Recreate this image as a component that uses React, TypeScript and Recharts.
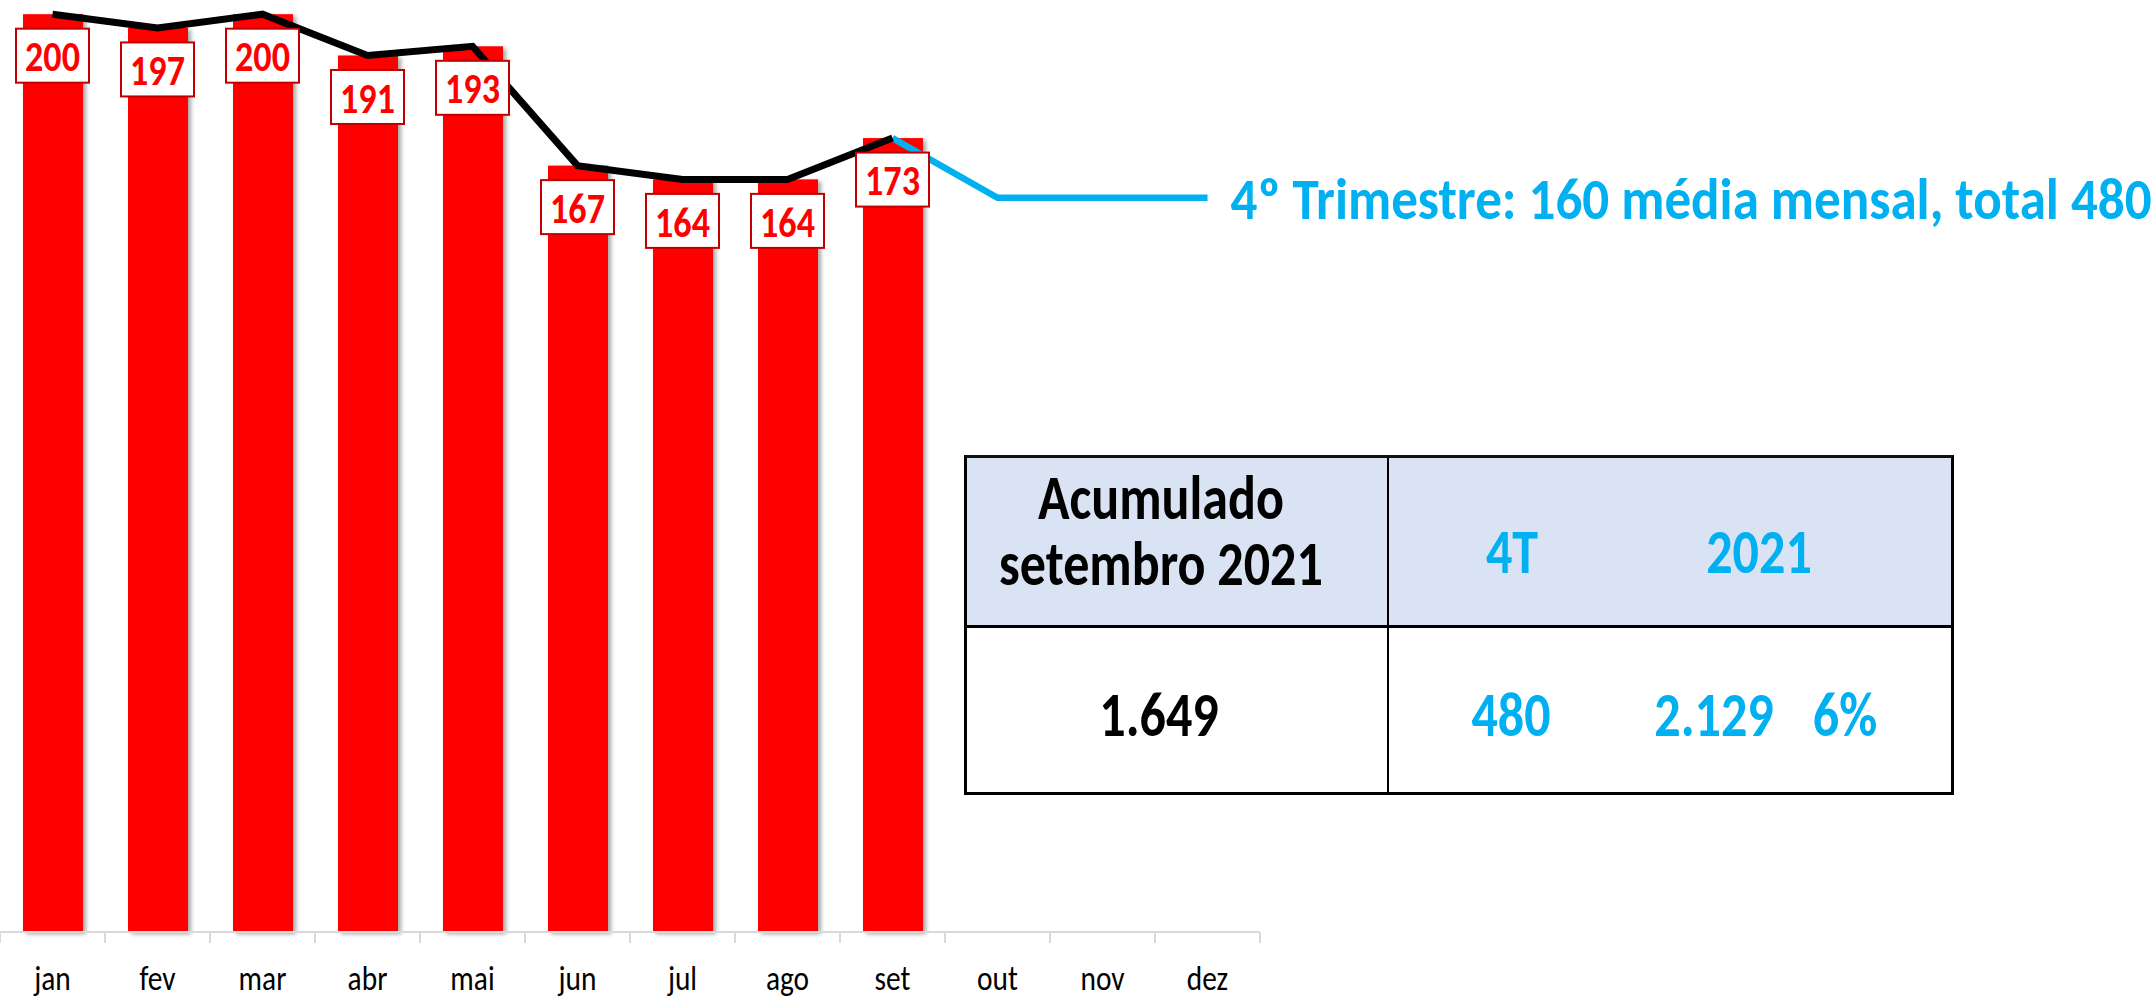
import React from "react";
import { ComposedChart, Bar, Line, XAxis, YAxis, LabelList } from "recharts";

const months = ["jan", "fev", "mar", "abr", "mai", "jun", "jul", "ago", "set", "out", "nov", "dez"];
const realizado = [200, 197, 200, 191, 193, 167, 164, 164, 173, null, null, null];
const previsao4T = [null, null, null, null, null, null, null, null, 173, 160, 160, 160];
const notaPrevisao = "4º Trimestre: 160 média mensal, total 480";

const tabelaCabecalho = ["Acumulado", "setembro 2021"];
const tabelaColunas = ["4T", "2021"];
const acumulado = "1.649";
const valores4T = ["480", "2.129", "6%"];

const W = 2156;
const H = 999;
const PLOT_W = 1260;
const AXIS_H = 67;
const BAND = PLOT_W / months.length;

// narrow look, Calibri is not installed
const FONT = "Carlito, Calibri, Lato, 'Open Sans', sans-serif";
const SQ = 0.84;
const RED = "#FF0000";
const DARK_RED = "#C00000";
const BLUE = "#00B0F0";

const data = months.map((m, i) => ({
  month: m,
  valor: realizado[i],
  linha: realizado[i],
  q4: previsao4T[i],
}));

const NarrowText = ({ x, y, anchor = "middle", size, bold, fill, children }: any) => (
  <text
    transform={`translate(${x},${y}) scale(${SQ},1)`}
    x={0}
    y={0}
    textAnchor={anchor}
    dominantBaseline="central"
    fontFamily={FONT}
    fontWeight={bold ? "bold" : "normal"}
    fontSize={size}
    fill={fill}
  >
    {children}
  </text>
);

const ShadowBar = (p: any) => {
  const { x, y, width, height } = p;
  if (!height || height <= 0) return null;
  return (
    <rect
      x={x}
      y={y}
      width={width}
      height={height}
      fill={RED}
      style={{ filter: "drop-shadow(3px 2px 2px rgba(0,0,0,0.35))" }}
    />
  );
};

const MonthTick = (p: any) => {
  const { x, y, payload, index } = p;
  const last = index === months.length - 1;
  return (
    <g>
      <line x1={x - BAND / 2} x2={x - BAND / 2} y1={y} y2={y + 11} stroke="#d9d9d9" strokeWidth={2} />
      {last && <line x1={x + BAND / 2} x2={x + BAND / 2} y1={y} y2={y + 11} stroke="#d9d9d9" strokeWidth={2} />}
      <NarrowText x={x} y={y + 46} size={35} fill="#000">
        {payload.value}
      </NarrowText>
    </g>
  );
};

const BoxLabel = (p: any) => {
  const { x, y, value } = p;
  if (value == null) return null;
  const cy = y + 41.5;
  return (
    <g>
      <rect x={x - 36.5} y={cy - 27} width={73} height={54} fill="#fff" stroke={DARK_RED} strokeWidth={2} />
      <NarrowText x={x} y={cy + 1} size={43} bold fill={RED}>
        {value}
      </NarrowText>
    </g>
  );
};

const NoteLabel = (p: any) => {
  const { x, y, index } = p;
  if (index !== months.length - 1) return null;
  return (
    <g transform={`translate(${x + 23},${y + 1}) scale(0.9,1)`}>
      <text x={0} y={0} dominantBaseline="central" fontFamily={FONT} fontWeight="bold" fontSize={59} fill={BLUE}>
        {notaPrevisao}
      </text>
    </g>
  );
};

const txt = (s: React.ReactNode, cx: number, cy: number, color: string, lh: number | string = 0.8): React.ReactElement => (
  <div
    key={String(cx) + "-" + cy}
    style={{
      position: "absolute",
      left: cx,
      top: cy,
      transform: `translate(-50%, -50%) scale(${SQ}, 1)`,
      whiteSpace: "nowrap",
      textAlign: "center",
      fontFamily: FONT,
      fontWeight: "bold",
      fontSize: 62,
      lineHeight: lh,
      color,
    }}
  >
    {s}
  </div>
);

export default function App() {
  return (
    <div style={{ position: "absolute", left: 0, top: 0, width: W, height: H, background: "#fff", overflow: "hidden" }}>
      <ComposedChart
        width={W}
        height={H}
        data={data}
        margin={{ top: 5, right: W - PLOT_W, bottom: 0, left: 0 }}
        barSize={60}
      >
        <XAxis
          dataKey="month"
          height={AXIS_H}
          axisLine={{ stroke: "#d9d9d9", strokeWidth: 2 }}
          tickLine={false}
          tickSize={0}
          tickMargin={0}
          interval={0}
          tick={<MonthTick />}
        />
        <YAxis hide domain={[0, 202]} />
        <Bar dataKey="valor" shape={<ShadowBar />} isAnimationActive={false} />
        <Line dataKey="q4" stroke={BLUE} strokeWidth={6.5} dot={false} isAnimationActive={false}>
          <LabelList dataKey="q4" content={<NoteLabel />} />
        </Line>
        <Line dataKey="linha" stroke="#000" strokeWidth={7} dot={false} isAnimationActive={false}>
          <LabelList dataKey="linha" content={<BoxLabel />} />
        </Line>
      </ComposedChart>

      {/* tabela resumo */}
      <div
        style={{
          position: "absolute",
          left: 964,
          top: 455,
          width: 990,
          height: 340,
          boxSizing: "border-box",
          borderTop: "3px solid #111",
          borderBottom: "3px solid #000",
          borderLeft: "3px solid #000",
          borderRight: "3px solid #000",
        }}
      >
        <div style={{ position: "absolute", left: 0, top: 0, right: 0, height: 167, background: "#DAE3F3", borderBottom: "3px solid #000" }} />
        <div style={{ position: "absolute", left: 420, top: 0, bottom: 0, width: 2, background: "#000" }} />
      </div>
      {txt(
        <>
          {tabelaCabecalho[0]}
          <br />
          {tabelaCabecalho[1]}
        </>,
        1161,
        531,
        "#000",
        "66px"
      )}
      {txt(tabelaColunas[0], 1512, 553, BLUE)}
      {txt(tabelaColunas[1], 1759, 553, BLUE)}
      {txt(acumulado, 1159, 716, "#000")}
      {txt(valores4T[0], 1511, 716, BLUE)}
      {txt(valores4T[1], 1714, 716, BLUE)}
      {txt(valores4T[2], 1845, 716, BLUE)}
    </div>
  );
}
